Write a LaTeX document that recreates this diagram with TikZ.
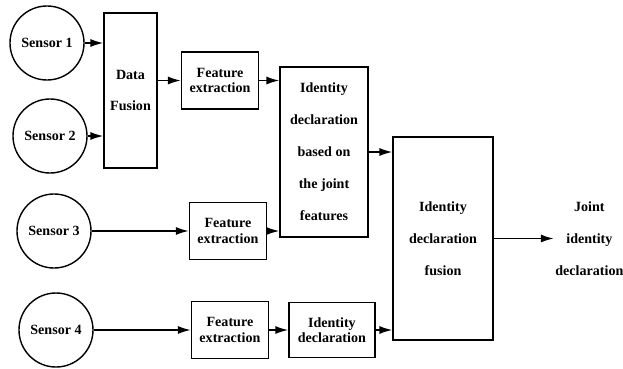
\documentclass[tikz,border=0pt]{standalone}
\usepackage{fontspec}
\setmainfont{Liberation Serif}
\usetikzlibrary{arrows.meta, positioning}

\begin{document}
\begin{tikzpicture}[
    x=0.025cm, y=-0.025cm,
    font=\bfseries\fontsize{10}{12}\selectfont,
    sensor/.style={
        draw,
        circle,
        line width=1pt,
        minimum size=1.85cm,
        inner sep=0pt
    },
    block/.style={
        draw,
        line width=1pt,
        align=center,
        inner sep=2pt
    },
    fextract/.style={
        block,
        minimum width=1.925cm,
        minimum height=1.425cm,
        font=\bfseries\fontsize{10}{11}\selectfont
    },
    tallblock/.style={
        block,
        font=\bfseries\fontsize{10}{22.7}\selectfont
    },
    outtext/.style={
        align=center,
        inner sep=1pt,
        font=\bfseries\fontsize{10}{22.7}\selectfont
    },
    line/.style={draw, line width=1pt, -{Latex[length=3.2mm,width=2mm]}}
]
\useasboundingbox (0,0) rectangle (623,368);

\node[sensor] (s1) at (47,43) {Sensor 1};
\node[sensor] (s2) at (50,136) {Sensor 2};
\node[sensor] (s3) at (54,231) {Sensor 3};
\node[sensor] (s4) at (56,330) {Sensor 4};

\node[tallblock, minimum width=1.325cm, minimum height=3.875cm] (datafusion) at (130.5,90.5)
{Data\\Fusion};

\node[fextract] (fe1) at (220,80.5) {Feature\\extraction};
\node[fextract, right=2.425cm of s3] (fe2) {Feature\\extraction};
\node[fextract, right=2.425cm of s4] (fe3) {Feature\\extraction};

\node[block, minimum width=2.15cm, minimum height=1.375cm,
      font=\bfseries\fontsize{10}{11}\selectfont, right=0.475cm of fe3] (iddecl)
{Identity\\declaration};

\node[tallblock, minimum width=2.2cm, minimum height=4.25cm] (joint) at (324,152)
{Identity\\declaration\\based on\\the joint\\features};

\node[tallblock, minimum width=2.5cm, minimum height=5.075cm] (idfusion) at (443,238.5)
{Identity\\declaration\\fusion};

\node[outtext, right=1.5cm of idfusion] (out) {Joint\\identity\\declaration};

\draw[line] (s1.east) -- (s1.east -| datafusion.west);
\draw[line] (s2.east) -- (s2.east -| datafusion.west);
\draw[line] (datafusion.east |- fe1.west) -- (fe1.west);
\draw[line] (fe1.east) -- (fe1.east -| joint.west);

\draw[line] (s3.east) -- (fe2.west);
\draw[line] (fe2.east) -- (fe2.east -| joint.west);
\draw[line] (joint.east) -- (joint.east -| idfusion.west);

\draw[line] (s4.east) -- (fe3.west);
\draw[line] (fe3.east) -- (iddecl.west);
\draw[line] (iddecl.east) -- (iddecl.east -| idfusion.west);

\draw[line] (idfusion.east) -- (out.west);

\end{tikzpicture}
\end{document}
